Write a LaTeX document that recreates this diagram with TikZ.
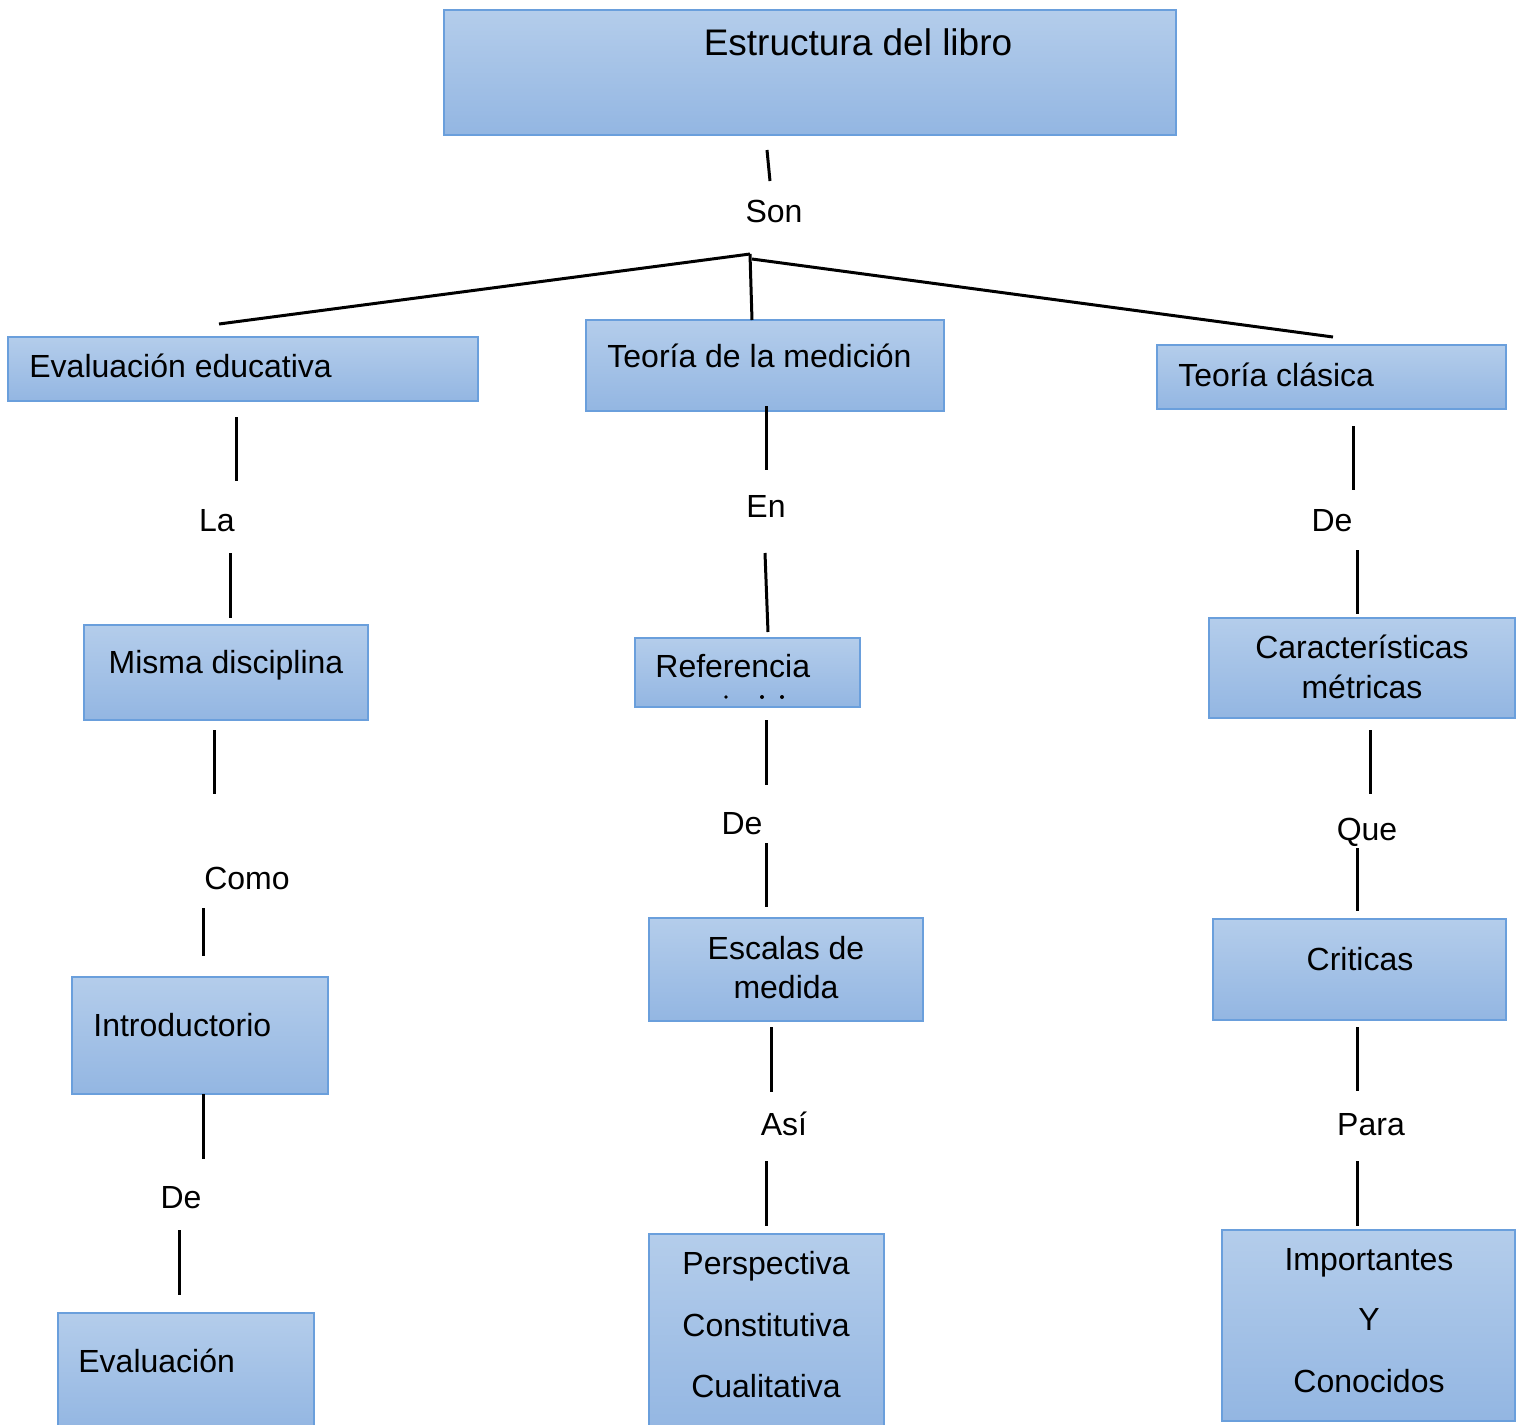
\documentclass[tikz,border=0pt]{standalone}
\usepackage{fontspec}
\setmainfont{Liberation Sans}
\definecolor{boxtop}{HTML}{B4CDEB}
\definecolor{boxbot}{HTML}{93B6E2}
\definecolor{boxline}{HTML}{6A9FDC}
\tikzset{
  x=0.5pt, y=-0.5pt,
  box/.style={draw=boxline, line width=0.7pt, top color=boxtop, bottom color=boxbot, inner sep=0pt, outer sep=0pt},
  lbl/.style={inner sep=0pt, anchor=base, font=\fontsize{16}{19}\selectfont},
  lblw/.style={inner sep=0pt, anchor=base west, font=\fontsize{16}{19}\selectfont},
  conn/.style={line width=1.5pt, black},
}
\begin{document}
\begin{tikzpicture}
\useasboundingbox (0,0) rectangle (1523,1425);
\fill[white] (0,0) rectangle (1523,1425);

% boxes
\node[box, minimum width=366pt, minimum height=62.5pt] (title) at (810,72.5) {};
\node[box, minimum width=235pt, minimum height=32pt] (evedu) at (243,369) {};
\node[box, minimum width=179pt, minimum height=45.5pt] (teomed) at (765,365.5) {};
\node[box, minimum width=174.5pt, minimum height=32pt] (teocla) at (1331.5,377) {};
\node[box, minimum width=142pt, minimum height=47.5pt] (misma) at (226,672.5) {};
\node[box, minimum width=128pt, minimum height=58.5pt] (intro) at (200,1035.5) {};
\node[box, minimum width=128pt, minimum height=58.5pt] (evalu) at (186,1371.5) {};
\node[box, minimum width=112.5pt, minimum height=34.5pt] (refer) at (747.5,672.5) {};
\node[box, minimum width=137pt, minimum height=51.5pt] (escal) at (786,969.5) {};
\node[box, minimum width=117.5pt, minimum height=100.5pt] (persp) at (766.5,1334.5) {};
\node[box, minimum width=153pt, minimum height=50pt] (caract) at (1362,668) {};
\node[box, minimum width=146.5pt, minimum height=50.5pt] (crit) at (1359.5,969.5) {};
\node[box, minimum width=146.5pt, minimum height=95.5pt] (impor) at (1368.5,1325.5) {};

% box texts
\node[lbl, font=\fontsize{18.5}{22}\selectfont] (ttitle) at (858,55) {Estructura del libro};
\node[lblw] (tevedu) at (29,377) {Evaluación educativa};
\node[lblw] (tteomed) at (607,367) {Teoría de la medición};
\node[lblw] (tteocla) at (1178,386) {Teoría clásica};
\node[lbl] (tmisma) at (226,673) {Misma disciplina};
\node[lblw] (tintro) at (93,1036) {Introductorio};
\node[lblw] (tevalu) at (78,1372) {Evaluación};
\node[lblw] (trefer) at (655,677) {Referencia};
\node[lbl] (tescal1) at (786,959) {Escalas de};
\node[lbl] (tescal2) at (786,998) {medida};
\node[lbl] (tpersp1) at (766,1274) {Perspectiva};
\node[lbl] (tpersp2) at (766,1336) {Constitutiva};
\node[lbl] (tpersp3) at (766,1397) {Cualitativa};
\node[lbl] (tcaract1) at (1362,658) {Características};
\node[lbl] (tcaract2) at (1362,698) {métricas};
\node[lbl] (tcrit) at (1360,970) {Criticas};
\node[lbl] (timpor1) at (1369,1270) {Importantes};
\node[lbl] (timpor2) at (1369,1330) {Y};
\node[lbl] (timpor3) at (1369,1392) {Conocidos};

% tiny remnants in Referencia box
\fill (726,697) circle (0.9pt);
\fill (762,697) circle (1pt);
\fill (782,697) circle (1pt);

% link labels
\node[lbl] (son) at (774,222) {Son};
\node[lbl] (la) at (217,531) {La};
\node[lbl] (como) at (247,889) {Como};
\node[lbl] (de1) at (181,1208) {De};
\node[lbl] (en) at (766,517) {En};
\node[lbl] (de2) at (742,834) {De};
\node[lbl] (asi) at (784,1135) {Así};
\node[lbl] (de3) at (1332,531) {De};
\node[lbl] (que) at (1367,840) {Que};
\node[lbl] (para) at (1371,1135) {Para};

% connector end points
\coordinate (s1a) at (767,150); \coordinate (s1b) at (770,181);
\coordinate (hub) at (750,254);
\coordinate (hubr) at (752,259);
\coordinate (lft) at (219,324);
\coordinate (mid) at (752,320);
\coordinate (rgt) at (1333,337);

\coordinate (a1) at (236,417); \coordinate (a2) at (236,481);
\coordinate (a3) at (230,553); \coordinate (a4) at (230,618);
\coordinate (a5) at (214,730); \coordinate (a6) at (214,794);
\coordinate (a7) at (203,908); \coordinate (a8) at (203,956);
\coordinate (a9) at (203,1094); \coordinate (a10) at (203,1159);
\coordinate (a11) at (179,1230); \coordinate (a12) at (179,1295);

\coordinate (b1) at (766,406); \coordinate (b2) at (766,470);
\coordinate (b3) at (765,553); \coordinate (b4) at (768,632);
\coordinate (b5) at (766,720); \coordinate (b6) at (766,785);
\coordinate (b7) at (766,843); \coordinate (b8) at (766,907);
\coordinate (b9) at (771,1027); \coordinate (b10) at (771,1092);
\coordinate (b11) at (766,1161); \coordinate (b12) at (766,1226);

\coordinate (c1) at (1353,426); \coordinate (c2) at (1353,490);
\coordinate (c3) at (1357,550); \coordinate (c4) at (1357,614);
\coordinate (c5) at (1370,730); \coordinate (c6) at (1370,794);
\coordinate (c7) at (1357,848); \coordinate (c8) at (1357,911);
\coordinate (c9) at (1357,1027); \coordinate (c10) at (1357,1091);
\coordinate (c11) at (1357,1161); \coordinate (c12) at (1357,1226);

% connectors
\draw[conn] (s1a) -- (s1b);
\draw[conn] (lft) -- (hub);
\draw[conn] (hub) -- (mid);
\draw[conn] (hubr) -- (rgt);

\draw[conn] (a1) -- (a2);
\draw[conn] (a3) -- (a4);
\draw[conn] (a5) -- (a6);
\draw[conn] (a7) -- (a8);
\draw[conn] (a9) -- (a10);
\draw[conn] (a11) -- (a12);

\draw[conn] (b1) -- (b2);
\draw[conn] (b3) -- (b4);
\draw[conn] (b5) -- (b6);
\draw[conn] (b7) -- (b8);
\draw[conn] (b9) -- (b10);
\draw[conn] (b11) -- (b12);

\draw[conn] (c1) -- (c2);
\draw[conn] (c3) -- (c4);
\draw[conn] (c5) -- (c6);
\draw[conn] (c7) -- (c8);
\draw[conn] (c9) -- (c10);
\draw[conn] (c11) -- (c12);
\end{tikzpicture}
\end{document}
